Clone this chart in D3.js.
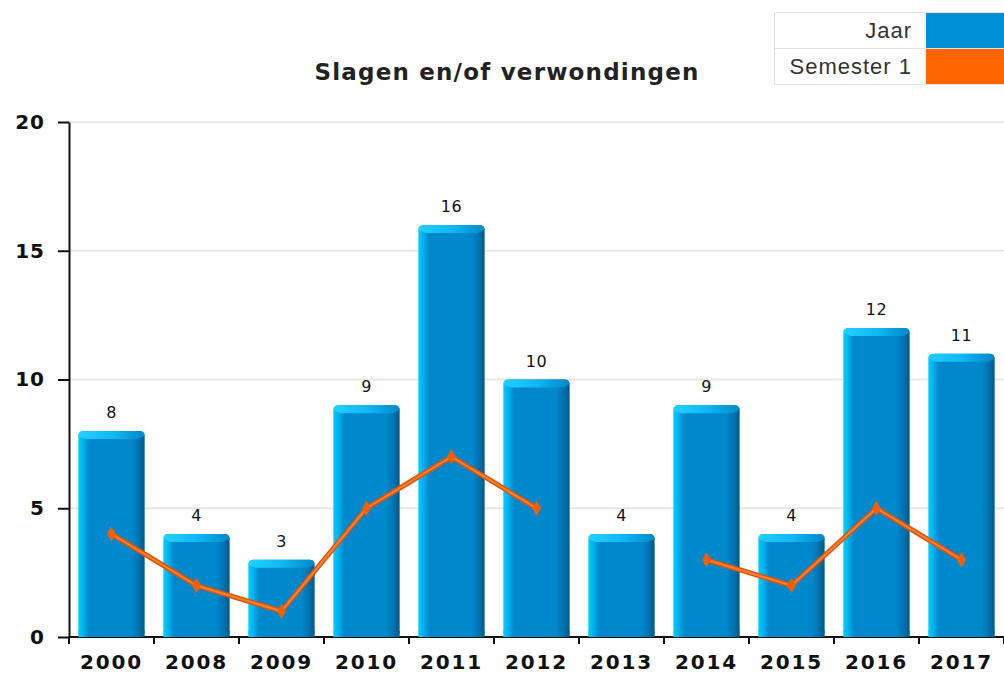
<!DOCTYPE html>
<html>
<head>
<meta charset="utf-8">
<script src="https://cdn.jsdelivr.net/npm/d3@7"></script>
<style>
  body { margin: 0; background: #fff; }
  svg { display: block; }
</style>
</head>
<body>
<div id="chart"></div>
<script>
// Chart data
const years = ["2000", "2008", "2009", "2010", "2011", "2012", "2013", "2014", "2015", "2016", "2017"];
const jaar = [8, 4, 3, 9, 16, 10, 4, 9, 4, 12, 11];
const semester1 = [4, 2, 1, 5, 7, 5, null, 3, 2, 5, 3];
const yTicks = [0, 5, 10, 15, 20];
const title = "Slagen en/of verwondingen";
const seriesNames = ["Jaar", "Semester 1"];
const seriesColors = ["#0090d8", "#ff6600"];

// Standard SVG setup stuff
const w = 1004;
const h = 674;
const padLeft = 69, padRight = 1004, padTop = 122, padBottom = 637;

const svg = d3.select("#chart")
  .append("svg")
  .attr("width", w)
  .attr("height", h);

const defs = svg.append("defs");
const grad = defs.append("linearGradient").attr("id", "barGrad")
  .attr("x1", "0").attr("x2", "1").attr("y1", "0").attr("y2", "0");
[[0, "#00ccff"], [0.07, "#00b4f0"], [0.16, "#0088cc"], [0.8, "#0088cc"], [0.9, "#0074b2"], [1, "#005a8a"]]
  .forEach(([o, c]) => grad.append("stop").attr("offset", o).attr("stop-color", c));
const topGrad = defs.append("linearGradient").attr("id", "topGrad")
  .attr("x1", "0").attr("x2", "1").attr("y1", "0").attr("y2", "0");
[[0, "#22d0ff"], [0.5, "#11b8f5"], [1, "#0088c8"]]
  .forEach(([o, c]) => topGrad.append("stop").attr("offset", o).attr("stop-color", c));

const x_scale = d3.scaleBand().domain(years).range([padLeft, padRight]).padding(0);
const y_scale = d3.scaleLinear().domain([0, 20]).range([padBottom, padTop]);
const barW = x_scale.bandwidth() * 0.78;
const barX = (d) => x_scale(d) + (x_scale.bandwidth() - barW) / 2;
const cx = (d) => x_scale(d) + x_scale.bandwidth() / 2;

// Grid lines
svg.append("g")
  .selectAll("line")
  .data(yTicks.filter((t) => t > 0))
  .join("line")
  .attr("x1", padLeft).attr("x2", padRight)
  .attr("y1", (d) => y_scale(d)).attr("y2", (d) => y_scale(d))
  .attr("stroke", "#e6e6e6").attr("stroke-width", 2);

// Axes
const y_axis = svg.append("g")
  .attr("transform", `translate(${padLeft},0)`)
  .call(d3.axisLeft(y_scale).tickValues(yTicks).tickSize(11).tickPadding(13).tickSizeOuter(0));
y_axis.select("path.domain").attr("stroke", "#111").attr("stroke-width", 2);
y_axis.selectAll("line").attr("stroke", "#111").attr("stroke-width", 2);
y_axis.selectAll("text")
  .attr("font-family", "DejaVu Sans").attr("font-weight", "bold")
  .attr("font-size", 20).attr("letter-spacing", 1).attr("fill", "#111");

const x_axis = svg.append("g").attr("transform", `translate(0,${padBottom})`);
x_axis.append("line").attr("x1", padLeft).attr("x2", padRight)
  .attr("stroke", "#111").attr("stroke-width", 2);
x_axis.selectAll("line.tick")
  .data(years.concat(["end"]))
  .join("line")
  .attr("class", "tick")
  .attr("x1", (d, i) => padLeft + i * x_scale.step())
  .attr("x2", (d, i) => padLeft + i * x_scale.step())
  .attr("y1", 0).attr("y2", 7)
  .attr("stroke", "#111").attr("stroke-width", 2);
x_axis.selectAll("text")
  .data(years)
  .join("text")
  .attr("x", (d) => cx(d))
  .attr("y", 32)
  .attr("text-anchor", "middle")
  .attr("font-family", "DejaVu Sans").attr("font-weight", "bold")
  .attr("font-size", 20).attr("letter-spacing", 1.8).attr("fill", "#111")
  .text((d) => d);

// Bars
const bars = svg.append("g")
  .selectAll("g")
  .data(years.map((y, i) => ({ year: y, value: jaar[i] })))
  .join("g");
bars.append("rect")
  .attr("x", (d) => barX(d.year))
  .attr("y", (d) => y_scale(d.value))
  .attr("width", barW)
  .attr("height", (d) => padBottom - y_scale(d.value))
  .attr("rx", 5)
  .attr("fill", "url(#barGrad)");
bars.append("rect")
  .attr("x", (d) => barX(d.year))
  .attr("y", (d) => padBottom - 6)
  .attr("width", barW)
  .attr("height", 6)
  .attr("fill", "url(#barGrad)");
bars.append("path")
  .attr("d", (d) => {
    const x0 = barX(d.year), x1 = x0 + barW, y0 = y_scale(d.value);
    return `M${x0 + 5},${y0} L${x1 - 5},${y0} Q${x1},${y0} ${x1},${y0 + 5} L${x1 - 7},${y0 + 8} L${x0 + 7},${y0 + 8} L${x0},${y0 + 5} Q${x0},${y0} ${x0 + 5},${y0} Z`;
  })
  .attr("fill", "url(#topGrad)");
bars.append("text")
  .attr("x", (d) => cx(d.year))
  .attr("y", (d) => y_scale(d.value) - 13)
  .attr("text-anchor", "middle")
  .attr("font-family", "DejaVu Sans")
  .attr("font-size", 16).attr("letter-spacing", 0.5).attr("fill", "#111")
  .text((d) => d.value);

// Semester 1 line (gap where there is no value)
const pts = years.map((y, i) => ({ year: y, value: semester1[i] }));
const line = d3.line()
  .defined((d) => d.value !== null)
  .x((d) => cx(d.year))
  .y((d) => y_scale(d.value));
svg.append("path").datum(pts)
  .attr("d", line).attr("fill", "none")
  .attr("stroke", "#d9560a").attr("stroke-width", 5).attr("stroke-linejoin", "round");
svg.append("path").datum(pts)
  .attr("d", line).attr("fill", "none")
  .attr("stroke", "#ff8030").attr("stroke-width", 2).attr("stroke-linejoin", "round");
svg.append("g")
  .selectAll("path")
  .data(pts.filter((d) => d.value !== null))
  .join("path")
  .attr("transform", (d) => `translate(${cx(d.year)},${y_scale(d.value)})`)
  .attr("d", d3.symbol(d3.symbolDiamond, 70))
  .attr("fill", "#f06000");

// Title
svg.append("text")
  .attr("x", 507).attr("y", 80)
  .attr("text-anchor", "middle")
  .attr("font-family", "DejaVu Sans").attr("font-weight", "bold")
  .attr("font-size", 23).attr("letter-spacing", 1.2).attr("fill", "#222")
  .text(title);

// Legend
const legend = svg.append("g").attr("transform", "translate(774,12)");
legend.append("rect").attr("x", 0.5).attr("y", 0.5).attr("width", 229).attr("height", 72)
  .attr("fill", "#fff").attr("stroke", "#e2e2e2");
legend.append("line").attr("x1", 0).attr("x2", 230).attr("y1", 36.5).attr("y2", 36.5)
  .attr("stroke", "#e2e2e2");
legend.append("line").attr("x1", 151).attr("x2", 151).attr("y1", 0).attr("y2", 73)
  .attr("stroke", "#e2e2e2");
seriesNames.forEach((name, i) => {
  legend.append("rect")
    .attr("x", 152).attr("y", 1 + i * 36).attr("width", 78).attr("height", 35)
    .attr("fill", seriesColors[i]);
  legend.append("text")
    .attr("x", 138).attr("y", 26 + i * 36)
    .attr("text-anchor", "end")
    .attr("font-family", "Liberation Sans, Arial")
    .attr("font-size", 22).attr("letter-spacing", 1).attr("fill", "#333")
    .text(name);
});
</script>
</body>
</html>
